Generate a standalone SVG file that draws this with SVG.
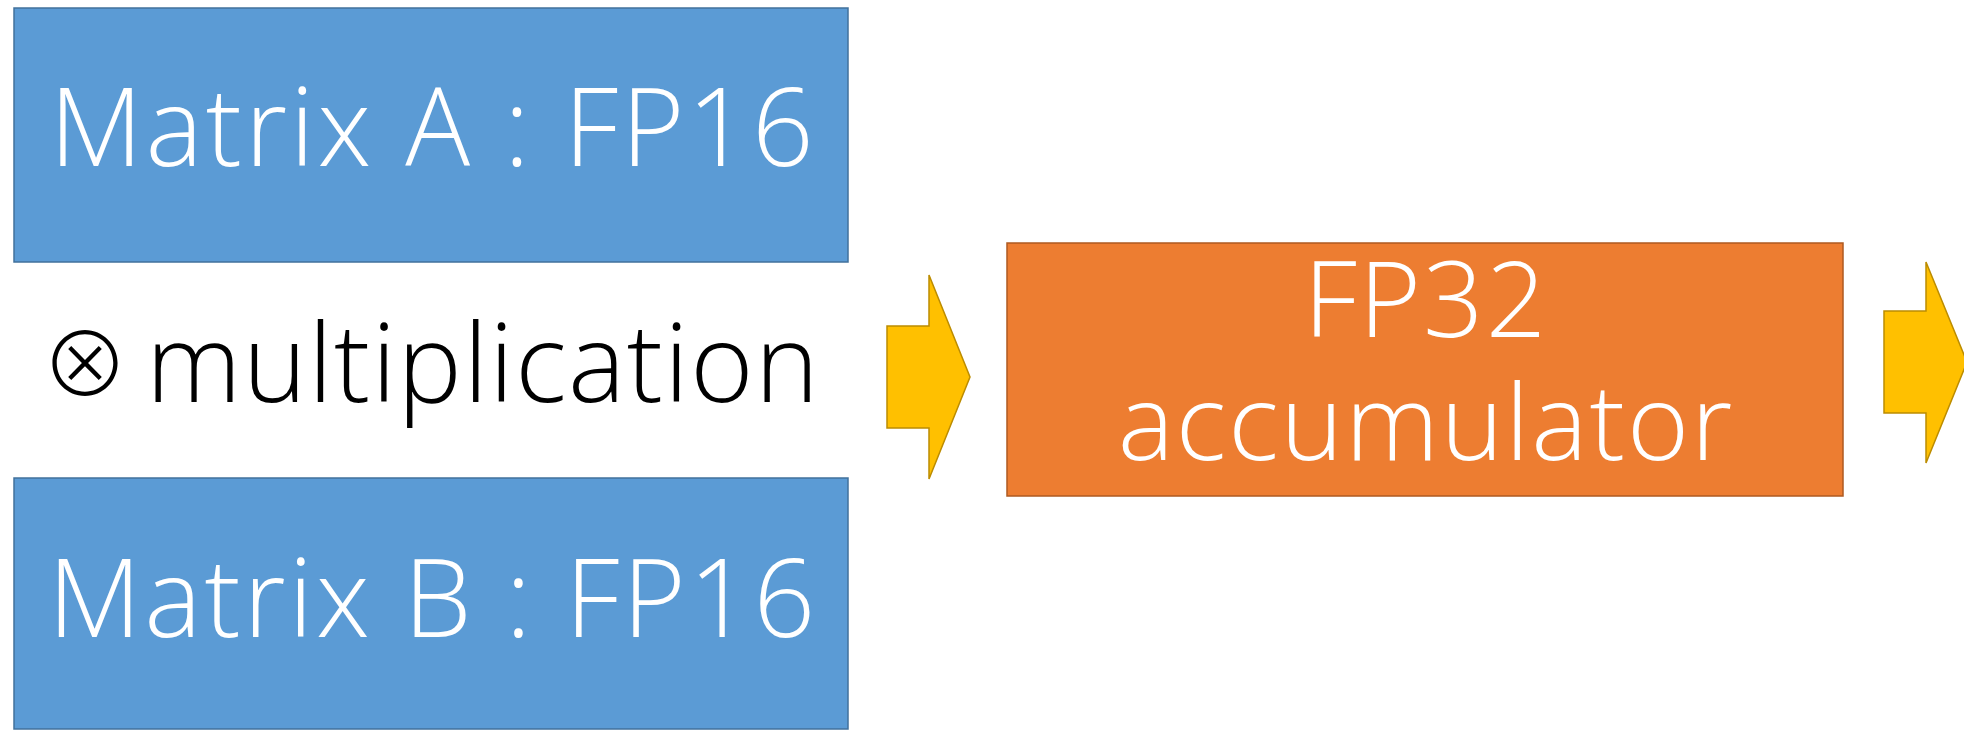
<svg xmlns="http://www.w3.org/2000/svg" width="1964" height="731" viewBox="0 0 1964 731">
<style>
.blue{fill:#5B9BD5;stroke:#41719C;stroke-width:1.5}
.orange{fill:#ED7D31;stroke:#AE5A21;stroke-width:1.5}
.arrow{fill:#FFC000;stroke:#BC8C00;stroke-width:1.5;stroke-linejoin:miter}
.wt{fill:#FFFFFF;font-family:"Open Sans","Liberation Sans",sans-serif;font-weight:300;text-anchor:middle}
.bt{fill:#000000;font-family:"Open Sans","Liberation Sans",sans-serif;font-weight:300}
</style>
<rect width="1964" height="731" fill="#FFFFFF"/>
<g id="matrixA">
<rect class="blue" x="14" y="8" width="834" height="254"/>
<text class="wt" x="433" y="166" font-size="108" letter-spacing="3">Matrix A : FP16</text>
</g>
<g id="multiplication">
<text class="bt" y="402" font-size="108" letter-spacing="1.5"><tspan x="41" font-family="Noto Sans CJK JP" font-size="88" letter-spacing="0" dy="-6">⊗</tspan><tspan x="146" dy="6">multiplication</tspan></text>
</g>
<g id="matrixB">
<rect class="blue" x="14" y="478" width="834" height="251"/>
<text class="wt" x="433" y="637" font-size="108" letter-spacing="3">Matrix B : FP16</text>
</g>
<g id="accumulator">
<rect class="orange" x="1007" y="243" width="836" height="253"/>
<text class="wt" x="1426" y="337" font-size="106" letter-spacing="2">FP32</text>
<text class="wt" x="1426" y="460" font-size="106" letter-spacing="2">accumulator</text>
</g>
<g id="connectors">
<polygon class="arrow" points="887,326 929,326 929,275 970,377 929,479 929,428 887,428"/>
<polygon class="arrow" points="1884,311 1926,311 1926,262 1967,362 1926,463 1926,413 1884,413"/>
</g>
</svg>
